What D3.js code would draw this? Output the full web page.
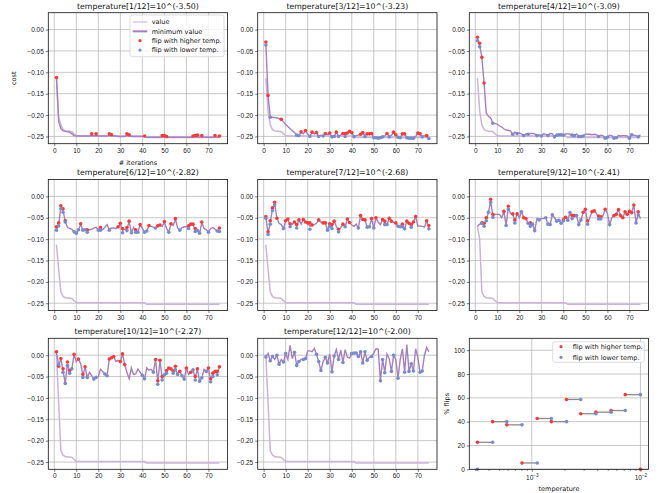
<!DOCTYPE html>
<html>
<head>
<meta charset="utf-8">
<script src="https://cdn.jsdelivr.net/npm/d3@7"></script>
<style>
  body { margin: 0; background: #fff; }
  svg { display: block; font-family: "DejaVu Sans", sans-serif; }
  .tick text { font-size: 6.5px; fill: #222; }
  .tick line { stroke: #222; stroke-width: 0.6; }
</style>
</head>
<body>
<script>
// temperature exponents (10^x) for the 12 replicas
const tempExp = [-3.50, -3.36, -3.23, -3.09, -2.95, -2.82, -2.68, -2.55, -2.41, -2.27, -2.14, -2.00];
const shownTemps = [1, 3, 4, 6, 7, 9, 10, 12];
const xTicks = [0, 10, 20, 30, 40, 50, 60, 70];
const yTicks = [-0.25, -0.20, -0.15, -0.10, -0.05, 0.00];
const flipTicks = [0, 20, 40, 60, 80, 100];

// light curve: first two points per panel, then the shared tail (iterations 3..75)
const minHead = [
  [-0.112, -0.205], [-0.114, -0.19], [-0.114, -0.19], [-0.113, -0.17],
  [-0.113, -0.17], [-0.069, -0.10], [0.004, -0.11], [-0.001, -0.11]
];
const minTail = [-0.223, -0.234, -0.237, -0.238, -0.238, -0.239, -0.244, -0.248,
  -0.249, -0.249, -0.249, -0.249, -0.249, -0.249, -0.249, -0.249, -0.249, -0.249,
  -0.249, -0.249, -0.249, -0.249, -0.249, -0.249, -0.249, -0.249, -0.249, -0.249,
  -0.249, -0.249, -0.249, -0.249, -0.249, -0.249, -0.249, -0.249, -0.249, -0.249, -0.249,
  -0.2525, -0.2525, -0.2525, -0.2525, -0.2525, -0.2525, -0.2525, -0.2525, -0.2525, -0.2525,
  -0.2525, -0.2525, -0.2525, -0.2525, -0.2525, -0.2525, -0.2525, -0.2525, -0.2525, -0.2525,
  -0.2525, -0.2525, -0.2525, -0.2525, -0.2525, -0.2525, -0.2525, -0.2525, -0.2525, -0.2525,
  -0.2525, -0.2525, -0.2525, -0.2525];

// value per iteration (1..75) for each shown temperature
const trace1 = [-0.112,-0.215,-0.232,-0.237,-0.238,-0.239,-0.240,-0.244,-0.248,-0.249,
  -0.249,-0.249,-0.249,-0.249,-0.249,-0.249,-0.248,-0.249,-0.248,-0.249,
  -0.249,-0.249,-0.249,-0.249,-0.248,-0.248,-0.249,-0.249,-0.250,-0.250,
  -0.250,-0.250,-0.248,-0.248,-0.250,-0.250,-0.250,-0.250,-0.250,-0.250,
  -0.250,-0.252,-0.252,-0.252,-0.252,-0.252,-0.252,-0.252,-0.251,-0.251,
  -0.251,-0.252,-0.252,-0.252,-0.252,-0.252,-0.252,-0.252,-0.252,-0.252,
  -0.252,-0.252,-0.251,-0.251,-0.251,-0.252,-0.251,-0.252,-0.252,-0.252,
  -0.252,-0.252,-0.251,-0.252,-0.251];
const trace3 = [-0.033,-0.154,-0.205,-0.205,-0.206,-0.207,-0.208,-0.210,-0.216,-0.222,
  -0.227,-0.232,-0.236,-0.241,-0.247,-0.247,-0.241,-0.244,-0.237,-0.245,
  -0.249,-0.241,-0.244,-0.242,-0.249,-0.247,-0.249,-0.243,-0.246,-0.243,
  -0.250,-0.250,-0.241,-0.249,-0.247,-0.243,-0.246,-0.243,-0.239,-0.242,
  -0.250,-0.248,-0.247,-0.245,-0.242,-0.249,-0.244,-0.244,-0.244,-0.252,
  -0.253,-0.253,-0.252,-0.251,-0.249,-0.244,-0.250,-0.247,-0.241,-0.246,
  -0.251,-0.252,-0.245,-0.245,-0.252,-0.253,-0.253,-0.253,-0.250,-0.243,
  -0.245,-0.250,-0.249,-0.248,-0.254];
const trace4 = [-0.022,-0.036,-0.065,-0.125,-0.195,-0.203,-0.207,-0.219,-0.220,-0.221,
  -0.225,-0.228,-0.232,-0.235,-0.236,-0.237,-0.245,-0.240,-0.243,-0.242,
  -0.244,-0.248,-0.244,-0.245,-0.243,-0.243,-0.244,-0.248,-0.246,-0.249,
  -0.244,-0.245,-0.248,-0.243,-0.244,-0.251,-0.247,-0.246,-0.246,-0.247,
  -0.244,-0.244,-0.245,-0.247,-0.248,-0.244,-0.250,-0.250,-0.249,-0.245,
  -0.245,-0.245,-0.246,-0.245,-0.246,-0.250,-0.247,-0.248,-0.254,-0.252,
  -0.247,-0.248,-0.254,-0.253,-0.248,-0.249,-0.248,-0.248,-0.249,-0.254,
  -0.246,-0.247,-0.248,-0.251,-0.246];
const trace6 = [-0.076,-0.066,-0.026,-0.033,-0.059,-0.073,-0.075,-0.077,-0.083,-0.086,
  -0.078,-0.066,-0.079,-0.078,-0.081,-0.078,-0.077,-0.074,-0.072,-0.079,
  -0.076,-0.078,-0.072,-0.066,-0.079,-0.074,-0.074,-0.075,-0.072,-0.064,
  -0.080,-0.077,-0.076,-0.059,-0.085,-0.073,-0.081,-0.084,-0.067,-0.075,
  -0.084,-0.081,-0.069,-0.070,-0.072,-0.074,-0.070,-0.068,-0.070,-0.060,
  -0.075,-0.084,-0.065,-0.068,-0.053,-0.074,-0.079,-0.073,-0.071,-0.071,
  -0.072,-0.066,-0.066,-0.078,-0.080,-0.086,-0.061,-0.075,-0.078,-0.084,
  -0.075,-0.073,-0.077,-0.081,-0.078];
const trace7 = [-0.049,-0.086,-0.061,-0.030,-0.017,-0.051,-0.063,-0.066,-0.075,-0.057,
  -0.053,-0.068,-0.065,-0.060,-0.070,-0.055,-0.065,-0.054,-0.060,-0.062,
  -0.070,-0.067,-0.066,-0.063,-0.055,-0.060,-0.062,-0.062,-0.079,-0.067,
  -0.071,-0.058,-0.070,-0.080,-0.073,-0.065,-0.071,-0.053,-0.061,-0.067,
  -0.070,-0.065,-0.074,-0.045,-0.054,-0.055,-0.072,-0.071,-0.052,-0.074,
  -0.050,-0.060,-0.066,-0.054,-0.062,-0.066,-0.051,-0.058,-0.061,-0.062,
  -0.070,-0.071,-0.068,-0.076,-0.058,-0.063,-0.069,-0.060,-0.047,-0.070,
  -0.069,-0.070,-0.072,-0.057,-0.072];
const trace9 = [-0.070,-0.065,-0.063,-0.067,-0.054,-0.037,-0.011,-0.046,-0.042,-0.042,
  -0.042,-0.050,-0.035,-0.068,-0.027,-0.040,-0.041,-0.058,-0.041,-0.050,
  -0.036,-0.050,-0.052,-0.063,-0.066,-0.065,-0.080,-0.052,-0.055,-0.052,
  -0.052,-0.050,-0.065,-0.066,-0.043,-0.050,-0.058,-0.056,-0.063,-0.056,
  -0.049,-0.056,-0.038,-0.048,-0.045,-0.045,-0.066,-0.055,-0.037,-0.030,
  -0.061,-0.050,-0.036,-0.034,-0.040,-0.050,-0.050,-0.045,-0.030,-0.040,
  -0.066,-0.050,-0.045,-0.042,-0.031,-0.045,-0.050,-0.036,-0.042,-0.035,
  -0.038,-0.020,-0.062,-0.040,-0.052];
const trace10 = [0.006,-0.024,-0.008,-0.036,-0.066,-0.020,-0.039,-0.032,0.002,-0.015,
  -0.009,-0.020,-0.048,-0.027,-0.052,-0.040,-0.048,-0.056,-0.052,-0.050,
  -0.033,-0.038,-0.044,-0.047,-0.009,-0.006,-0.003,-0.015,-0.012,-0.015,
  0.003,-0.022,-0.040,-0.055,-0.030,-0.045,-0.044,-0.032,-0.040,-0.047,
  -0.055,-0.030,-0.035,-0.033,-0.040,-0.010,-0.064,-0.012,-0.054,-0.046,
  -0.039,-0.030,-0.032,-0.040,-0.030,-0.045,-0.038,-0.048,-0.056,-0.030,
  -0.045,-0.040,-0.034,-0.054,-0.032,-0.061,-0.053,-0.033,-0.038,-0.030,
  -0.058,-0.046,-0.038,-0.042,-0.027];
const trace12 = [-0.004,0.004,-0.013,-0.003,-0.010,0.000,-0.021,-0.010,-0.016,0.004,
  -0.010,0.023,-0.008,0.007,-0.024,-0.015,-0.010,-0.010,-0.008,0.010,
  0.010,0.008,0.016,0.002,-0.015,-0.036,-0.015,-0.005,-0.018,0.003,
  -0.039,-0.002,0.013,-0.010,0.012,-0.017,0.013,-0.005,-0.007,0.004,
  0.005,0.005,-0.003,0.008,-0.018,0.008,-0.012,-0.005,-0.003,0.005,
  0.015,0.014,-0.060,-0.010,-0.041,0.003,-0.008,-0.038,0.000,-0.010,
  -0.054,-0.010,0.015,-0.040,0.025,-0.038,-0.020,-0.037,0.015,-0.005,
  -0.040,-0.037,0.000,0.018,0.008];

// [iteration, value] of swaps with the higher temperature (red)
const up1 = [[1,-0.112],[17,-0.244],[19,-0.244],[25,-0.244],[26,-0.246],[33,-0.244],[34,-0.246],[41,-0.249],[49,-0.248],[50,-0.248],[51,-0.25],[63,-0.249],[64,-0.248],[65,-0.247],[67,-0.248],[73,-0.248],[75,-0.249]];
const up3 = [[1,-0.029],[2,-0.154],[8,-0.21],[17,-0.239],[19,-0.236],[22,-0.24],[24,-0.241],[28,-0.243],[30,-0.242],[33,-0.24],[36,-0.243],[37,-0.243],[38,-0.242],[39,-0.238],[40,-0.241],[44,-0.245],[45,-0.241],[47,-0.244],[48,-0.244],[49,-0.243],[56,-0.243],[59,-0.24],[60,-0.246],[63,-0.244],[64,-0.244],[70,-0.242],[71,-0.244],[74,-0.248]];
const up4 = [[1,-0.018],[2,-0.032],[3,-0.065],[4,-0.125]];
const up6 = [[1,-0.071],[2,-0.062],[3,-0.022],[4,-0.029],[5,-0.057],[12,-0.064],[15,-0.078],[21,-0.073],[29,-0.071],[30,-0.063],[31,-0.075],[33,-0.073],[34,-0.058],[37,-0.078],[39,-0.066],[43,-0.068],[47,-0.069],[48,-0.067],[50,-0.059],[53,-0.064],[55,-0.052],[61,-0.069],[62,-0.065],[63,-0.065],[64,-0.075],[67,-0.06],[75,-0.074]];
const up7 = [[1,-0.047],[2,-0.083],[3,-0.057],[4,-0.027],[5,-0.014],[6,-0.051],[10,-0.057],[11,-0.053],[12,-0.064],[14,-0.06],[15,-0.066],[16,-0.055],[18,-0.054],[19,-0.06],[20,-0.062],[21,-0.062],[22,-0.067],[25,-0.055],[27,-0.062],[28,-0.062],[30,-0.064],[31,-0.066],[32,-0.058],[34,-0.077],[36,-0.065],[38,-0.053],[39,-0.061],[44,-0.045],[45,-0.054],[46,-0.055],[49,-0.052],[51,-0.05],[54,-0.054],[55,-0.058],[57,-0.051],[58,-0.058],[60,-0.062],[63,-0.065],[65,-0.058],[66,-0.063],[67,-0.066],[68,-0.06],[69,-0.047],[74,-0.057],[75,-0.068]];
const up9 = [[3,-0.062],[4,-0.063],[5,-0.05],[7,-0.007],[8,-0.042],[13,-0.035],[15,-0.023],[17,-0.041],[18,-0.055],[19,-0.041],[22,-0.05],[23,-0.052],[25,-0.062],[40,-0.055],[41,-0.049],[44,-0.044],[45,-0.045],[49,-0.037],[50,-0.03],[51,-0.057],[53,-0.036],[54,-0.034],[56,-0.046],[57,-0.048],[59,-0.03],[63,-0.045],[64,-0.042],[65,-0.031],[66,-0.045],[67,-0.05],[68,-0.036],[69,-0.042],[70,-0.035],[71,-0.038],[72,-0.02],[74,-0.036]];
const up10 = [[1,0.008],[2,-0.026],[3,-0.008],[4,-0.032],[6,-0.016],[7,-0.036],[9,0.002],[11,-0.009],[13,-0.045],[14,-0.027],[25,-0.009],[26,-0.006],[27,-0.003],[30,-0.015],[31,0.003],[32,-0.022],[46,-0.01],[47,-0.06],[48,-0.012],[49,-0.05],[51,-0.036],[52,-0.03],[53,-0.032],[54,-0.037],[55,-0.026],[57,-0.038],[60,-0.03],[62,-0.04],[64,-0.05],[65,-0.032],[70,-0.03],[71,-0.055],[72,-0.042],[73,-0.038],[74,-0.038],[75,-0.027]];
const up12 = [];

// [iteration, value] of swaps with the lower temperature (blue)
const down1 = [];
const down3 = [[1,-0.036],[3,-0.205],[15,-0.247],[16,-0.248],[21,-0.25],[25,-0.25],[27,-0.249],[31,-0.251],[32,-0.25],[34,-0.25],[37,-0.25],[41,-0.251],[46,-0.25],[50,-0.253],[51,-0.253],[52,-0.254],[53,-0.253],[54,-0.251],[57,-0.251],[61,-0.252],[62,-0.253],[65,-0.253],[66,-0.254],[67,-0.254],[68,-0.254],[72,-0.251],[75,-0.255]];
const down4 = [[1,-0.026],[2,-0.04],[8,-0.219],[17,-0.245],[19,-0.243],[22,-0.248],[24,-0.245],[28,-0.248],[30,-0.249],[33,-0.248],[36,-0.251],[37,-0.247],[38,-0.246],[39,-0.246],[40,-0.247],[44,-0.247],[45,-0.248],[47,-0.25],[48,-0.25],[49,-0.249],[56,-0.25],[59,-0.254],[60,-0.252],[63,-0.254],[64,-0.253],[70,-0.254],[71,-0.246],[74,-0.251]];
const down6 = [[1,-0.079],[2,-0.069],[3,-0.029],[4,-0.037],[5,-0.06],[9,-0.083],[10,-0.086],[11,-0.078],[13,-0.079],[14,-0.078],[15,-0.084],[20,-0.079],[21,-0.079],[25,-0.079],[31,-0.085],[33,-0.08],[35,-0.085],[37,-0.084],[38,-0.084],[41,-0.084],[42,-0.081],[46,-0.074],[52,-0.084],[57,-0.079],[61,-0.075],[64,-0.082],[65,-0.08],[66,-0.086],[70,-0.084],[74,-0.081],[75,-0.082]];
const down7 = [[1,-0.051],[2,-0.089],[3,-0.065],[4,-0.033],[5,-0.02],[9,-0.075],[12,-0.071],[15,-0.074],[21,-0.077],[29,-0.079],[30,-0.07],[31,-0.075],[34,-0.083],[37,-0.071],[43,-0.074],[47,-0.072],[48,-0.071],[50,-0.074],[55,-0.066],[56,-0.066],[61,-0.07],[62,-0.071],[63,-0.071],[64,-0.076],[67,-0.072],[75,-0.076]];
const down9 = [[3,-0.063],[4,-0.07],[5,-0.057],[6,-0.037],[7,-0.014],[8,-0.049],[14,-0.068],[15,-0.03],[18,-0.062],[21,-0.036],[24,-0.063],[25,-0.07],[26,-0.065],[27,-0.08],[29,-0.055],[32,-0.05],[33,-0.065],[34,-0.066],[35,-0.043],[37,-0.058],[38,-0.056],[39,-0.063],[40,-0.057],[42,-0.056],[43,-0.038],[44,-0.052],[46,-0.045],[47,-0.066],[48,-0.055],[51,-0.065],[56,-0.053],[57,-0.053],[61,-0.066],[73,-0.062],[74,-0.043]];
const down10 = [[2,-0.022],[4,-0.04],[5,-0.066],[6,-0.024],[7,-0.042],[8,-0.032],[13,-0.052],[15,-0.052],[18,-0.056],[19,-0.052],[23,-0.044],[24,-0.048],[40,-0.047],[41,-0.055],[45,-0.04],[47,-0.068],[49,-0.058],[50,-0.046],[51,-0.042],[54,-0.042],[55,-0.034],[56,-0.045],[58,-0.048],[59,-0.056],[63,-0.034],[64,-0.058],[66,-0.061],[67,-0.053],[69,-0.038],[71,-0.062],[72,-0.05],[74,-0.046]];
const down12 = [[1,-0.004],[3,-0.013],[4,-0.003],[6,0.0],[7,-0.021],[9,-0.016],[10,0.004],[14,0.007],[15,-0.024],[16,-0.015],[18,-0.01],[19,-0.008],[24,0.002],[25,-0.015],[26,-0.036],[28,-0.005],[29,-0.018],[31,-0.039],[32,-0.002],[34,-0.01],[36,-0.017],[40,0.004],[41,0.005],[42,0.005],[43,-0.003],[44,0.008],[45,-0.018],[46,0.008],[47,-0.012],[49,-0.003],[53,-0.06],[54,-0.01],[55,-0.041],[58,-0.038],[59,0.0],[61,-0.054],[64,-0.04],[66,-0.038],[67,-0.02],[68,-0.037],[71,-0.04],[72,-0.037]];

// % of swaps accepted, per temperature
const flipUp = [22.67, 40.0, 37.33, 5.33, 42.67, 40.0, 58.67, 46.67, 48.0, 49.33, 62.67, 0];
const flipDown = [0, 22.67, 40.0, 37.33, 5.33, 42.67, 40.0, 58.67, 46.67, 48.0, 49.33, 62.67];

const traces = [trace1, trace3, trace4, trace6, trace7, trace9, trace10, trace12];
const ups = [up1, up3, up4, up6, up7, up9, up10, up12];
const downs = [down1, down3, down4, down6, down7, down9, down10, down12];

const colLeft = [48.3, 257.7, 469.3], rowTop = [12.7, 179.5, 338.3];
const W = 179.3, H = 131;
const RED = '#f43a3a', BLUE = '#7a8bcc', VAL = '#a67fbd', MINC = '#cbb4dc';
const DOT = 1.8;
const minus = s => s.replace('-', '\u2212');

const svg = d3.select('body').append('svg').attr('width', 665).attr('height', 493);

const x = d3.scaleLinear().domain([-2.7, 78.7]).range([0, W]);
const y = d3.scaleLinear().domain([-0.267, 0.0395]).range([H, 0]);

function frame(g, xs, ys, xt, yt) {
  // grid
  g.append('g').selectAll('line').data(xt).enter().append('line')
    .attr('x1', d => xs(d)).attr('x2', d => xs(d)).attr('y1', 0).attr('y2', H)
    .attr('stroke', '#b0b0b0').attr('stroke-width', 0.7);
  g.append('g').selectAll('line').data(yt).enter().append('line')
    .attr('y1', d => ys(d)).attr('y2', d => ys(d)).attr('x1', 0).attr('x2', W)
    .attr('stroke', '#b0b0b0').attr('stroke-width', 0.7);
}

function spines(g) {
  g.append('rect').attr('width', W).attr('height', H)
    .attr('fill', 'none').attr('stroke', '#111').attr('stroke-width', 0.8);
}

shownTemps.forEach(function (t, i) {
  const g = svg.append('g')
    .attr('transform', `translate(${colLeft[i % 3]},${rowTop[Math.floor(i / 3)]})`);
  frame(g, x, y, xTicks, yTicks);

  g.append('g').attr('transform', `translate(0,${H})`)
    .call(d3.axisBottom(x).tickValues(xTicks).tickSize(2.5).tickPadding(2))
    .call(a => a.select('.domain').remove());
  g.append('g')
    .call(d3.axisLeft(y).tickValues(yTicks).tickSize(2.5).tickPadding(2)
      .tickFormat(d => minus(d3.format('.2f')(d))))
    .call(a => a.select('.domain').remove());

  const minCurve = minHead[i].concat(minTail);
  const line = d3.line().x((d, k) => x(k + 1)).y(d => y(d));
  g.append('path').datum(minCurve).attr('d', line)
    .attr('fill', 'none').attr('stroke', MINC).attr('stroke-width', 1.5);
  g.append('path').datum(traces[i]).attr('d', line)
    .attr('fill', 'none').attr('stroke', VAL).attr('stroke-width', 1.4);

  g.append('g').selectAll('circle').data(ups[i]).enter().append('circle')
    .attr('cx', d => x(d[0])).attr('cy', d => y(d[1])).attr('r', DOT).attr('fill', RED);
  g.append('g').selectAll('circle').data(downs[i]).enter().append('circle')
    .attr('cx', d => x(d[0])).attr('cy', d => y(d[1])).attr('r', DOT).attr('fill', BLUE);

  spines(g);

  g.append('text').attr('x', W / 2).attr('y', -4.2).attr('text-anchor', 'middle')
    .attr('font-size', 7.8).attr('fill', '#111')
    .text(`temperature[${t}/12]=10^(${tempExp[t - 1].toFixed(2)})`);

  if (i === 0) {
    g.append('text').attr('x', W / 2).attr('y', H + 21).attr('text-anchor', 'middle')
      .attr('font-size', 6.5).attr('fill', '#111').text('# iterations');
    g.append('text').attr('transform', `translate(-32,${H / 2}) rotate(-90)`)
      .attr('text-anchor', 'middle').attr('font-size', 6.5).attr('fill', '#111').text('cost');

    // legend
    const lg = g.append('g').attr('transform', 'translate(81.7,2.3)');
    lg.append('rect').attr('width', 94).attr('height', 41.7).attr('rx', 2)
      .attr('fill', '#fff').attr('fill-opacity', 0.8).attr('stroke', '#d4d4d4').attr('stroke-width', 0.8);
    const items = ['value', 'minimum value', 'flip with higher temp.', 'flip with lower temp.'];
    items.forEach(function (lab, k) {
      const cy = 7 + k * 9.35;
      if (k < 2) {
        lg.append('line').attr('x1', 2.7).attr('x2', 17.3).attr('y1', cy).attr('y2', cy)
          .attr('stroke', k === 0 ? MINC : VAL).attr('stroke-width', k === 0 ? 1.1 : 2);
      } else {
        lg.append('circle').attr('cx', 10).attr('cy', cy).attr('r', 1.6)
          .attr('fill', k === 2 ? RED : BLUE);
      }
      lg.append('text').attr('x', 21.7).attr('y', cy).attr('dy', '0.35em')
        .attr('font-size', 6.5).attr('fill', '#111').text(lab);
    });
  }
});

// flip-rate panel
const fg = svg.append('g').attr('transform', `translate(${colLeft[2]},${rowTop[2]})`);
const xl = d3.scaleLog().domain([Math.pow(10, -3.575), Math.pow(10, -1.925)]).range([0, W]);
const yf = d3.scaleLinear().domain([0, 110]).range([H, 0]);
const allTicks = xl.ticks();
const major = allTicks.filter(d => Math.abs(Math.log10(d) - Math.round(Math.log10(d))) < 1e-9);
const minor = allTicks.filter(d => major.indexOf(d) < 0);
frame(fg, xl, yf, major, flipTicks);

fg.append('g').attr('transform', `translate(0,${H})`)
  .call(d3.axisBottom(xl).tickValues(minor).tickSize(1.5).tickFormat(''))
  .call(a => a.select('.domain').remove());
const xa = fg.append('g').attr('transform', `translate(0,${H})`)
  .call(d3.axisBottom(xl).tickValues(major).tickSize(2.5).tickPadding(2).tickFormat(''))
  .call(a => a.select('.domain').remove());
xa.selectAll('.tick').append('text').attr('y', 11).attr('text-anchor', 'middle')
  .attr('font-size', 6.5).attr('fill', '#222')
  .each(function (d) {
    const t = d3.select(this);
    t.append('tspan').text('10');
    t.append('tspan').attr('dy', -2.8).attr('font-size', 4.6)
      .text('\u2212' + Math.abs(Math.round(Math.log10(d))));
  });
fg.append('g')
  .call(d3.axisLeft(yf).tickValues(flipTicks).tickSize(2.5).tickPadding(2))
  .call(a => a.select('.domain').remove());

const temps = tempExp.map(e => Math.pow(10, e));
fg.append('g').selectAll('line').data(d3.range(temps.length - 1)).enter().append('line')
  .attr('x1', k => xl(temps[k])).attr('x2', k => xl(temps[k + 1]))
  .attr('y1', k => yf(flipUp[k])).attr('y2', k => yf(flipDown[k + 1]))
  .attr('stroke', '#8c8c8c').attr('stroke-width', 1.3);
fg.append('g').selectAll('circle').data(flipUp).enter().append('circle')
  .attr('cx', (d, k) => xl(temps[k])).attr('cy', d => yf(d)).attr('r', DOT).attr('fill', RED);
fg.append('g').selectAll('circle').data(flipDown).enter().append('circle')
  .attr('cx', (d, k) => xl(temps[k])).attr('cy', d => yf(d)).attr('r', DOT).attr('fill', BLUE);
spines(fg);

fg.append('text').attr('x', W / 2).attr('y', H + 21.5).attr('text-anchor', 'middle')
  .attr('font-size', 6.5).attr('fill', '#111').text('temperature');
fg.append('text').attr('transform', `translate(-20,${H / 2}) rotate(-90)`)
  .attr('text-anchor', 'middle').attr('font-size', 6.5).attr('fill', '#111').text('% flips');

const fl = fg.append('g').attr('transform', 'translate(83.4,3.4)');
fl.append('rect').attr('width', 91.6).attr('height', 20.6).attr('rx', 2)
  .attr('fill', '#fff').attr('fill-opacity', 0.8).attr('stroke', '#d4d4d4').attr('stroke-width', 0.8);
['flip with higher temp.', 'flip with lower temp.'].forEach(function (lab, k) {
  const cy = 5 + k * 10.6;
  fl.append('circle').attr('cx', 8.3).attr('cy', cy).attr('r', 1.6).attr('fill', k === 0 ? RED : BLUE);
  fl.append('text').attr('x', 20).attr('y', cy).attr('dy', '0.35em')
    .attr('font-size', 6.5).attr('fill', '#111').text(lab);
});
</script>
</body>
</html>
